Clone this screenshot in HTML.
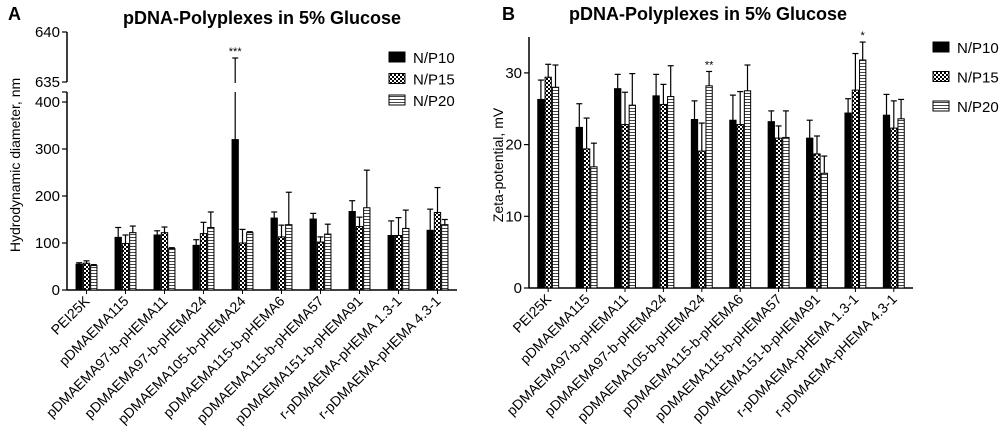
<!DOCTYPE html>
<html><head><meta charset="utf-8"><style>
body{margin:0;background:#fff;}
svg{display:block;font-family:"Liberation Sans",Arial,sans-serif;}
</style></head><body>
<svg id="chart" width="1000" height="438" viewBox="0 0 1000 438">
<defs>
<pattern id="chk" width="4" height="4" patternUnits="userSpaceOnUse"><rect width="4" height="4" fill="#fff"/><rect width="2" height="2" fill="#000"/><rect x="2" y="2" width="2" height="2" fill="#000"/></pattern>
<pattern id="hst" width="4" height="3" patternUnits="userSpaceOnUse"><rect width="4" height="3" fill="#fff"/><rect y="0" width="4" height="1" fill="#444"/></pattern>
</defs>
<text x="8" y="20" font-size="18" font-weight="bold">A</text>
<text x="262" y="24" font-size="18" font-weight="bold" text-anchor="middle">pDNA-Polyplexes in 5% Glucose</text>
<text x="502" y="20" font-size="18" font-weight="bold">B</text>
<text x="708" y="20" font-size="18" font-weight="bold" text-anchor="middle">pDNA-Polyplexes in 5% Glucose</text>
<text transform="translate(20,165) rotate(-90)" font-size="14" text-anchor="middle">Hydrodynamic diameter, nm</text>
<text transform="translate(503,165) rotate(-90)" font-size="14" text-anchor="middle">Zeta-potential, mV</text>
<g id="ga"></g><g id="gb"></g>
</svg>
<script>
const categories=["PEI25K","pDMAEMA115","pDMAEMA97-b-pHEMA11","pDMAEMA97-b-pHEMA24","pDMAEMA105-b-pHEMA24","pDMAEMA115-b-pHEMA6","pDMAEMA115-b-pHEMA57","pDMAEMA151-b-pHEMA91","r-pDMAEMA-pHEMA 1.3-1","r-pDMAEMA-pHEMA 4.3-1"];
const seriesNames=["N/P10","N/P15","N/P20"];
const sizeNP10=[55,112,117,95,320,153,151,167,116,127];
const sizeNP15=[57,99,122,120,100,113,102,135,116,165];
const sizeNP20=[52,122,88,133,122,139,119,175,131,139];
const sizeErrNP10=[58,133,126,107,637.4,166,163,190,147,172];
const sizeErrNP15=[62,117,134,144,129,138,113,155,154,218];
const sizeErrNP20=[54,136,90,166,124,208,140,255,170,150];
const zetaNP10=[26.3,22.4,27.8,26.8,23.5,23.4,23.2,20.9,24.4,24.1];
const zetaNP15=[29.4,19.4,22.8,25.6,19.1,22.8,20.9,18.7,27.6,22.3];
const zetaNP20=[28.0,16.9,25.5,26.7,28.2,27.5,21.0,16.0,31.8,23.6];
const zetaErrNP10=[29,25.7,29.8,29.8,26.1,26.9,24.7,23.4,26.4,27];
const zetaErrNP15=[31.2,23.7,27.3,28.4,23,27.4,22.6,21.2,32.7,26.1];
const zetaErrNP20=[31.1,20.2,29.9,31,30.2,31.1,24.7,18.4,34.3,26.3];
const sizeTicks=[0,100,200,300,400];
const sizeUpperTicks=[635,640];
const zetaTicks=[0,10,20,30];
const fills=["#000","url(#chk)","url(#hst)"];
const NS="http://www.w3.org/2000/svg";
function mk(p,tag,at){const e=document.createElementNS(NS,tag);for(const k in at)e.setAttribute(k,at[k]);p.appendChild(e);return e;}

function drawPanel(g,cfg){
  const {x0,x1,y0,yScale,ticks,vals,errs,leg,stars,prefix}=cfg;
  const n=categories.length, step=(x1-x0)/n, bw=7.3;
  let e=mk(g,'line',{x1:x0,y1:y0,x2:x1,y2:y0,stroke:'#000','stroke-width':1.5});
  
  ticks.forEach(t=>{const y=yScale(t);
    mk(g,'line',{x1:x0-5,y1:y,x2:x0,y2:y,stroke:'#000','stroke-width':1.2});
    let tx=mk(g,'text',{x:x0-7,y:y+5,'font-size':15,'text-anchor':'end'});tx.textContent=t;
    });
  categories.forEach((c,i)=>{
    const cx=x0+step*(i+0.5);
    mk(g,'line',{x1:cx,y1:y0,x2:cx,y2:y0+4,stroke:'#000','stroke-width':1});
    let tx=mk(g,'text',{transform:`translate(${cx+4},${y0+12}) rotate(-45)`,'font-size':14,'text-anchor':'end'});
    tx.textContent=c;
    
    for(let s=0;s<3;s++){
      const bx=cx-bw*1.5+s*bw+0.5;
      const v=vals[s][i], ev=errs[s][i];
      const yt=yScale(v), ye=yScale(ev);
      const bc=bx+(bw-1)/2;
      let el=mk(g,'line',{x1:bc,y1:yt,x2:bc,y2:ye,stroke:'#000','stroke-width':1.2});
      
      mk(g,'line',{x1:bc-3,y1:ye,x2:bc+3,y2:ye,stroke:'#000','stroke-width':1.2});
      let r=mk(g,'rect',{x:bx,y:yt,width:bw-1,height:y0-yt,fill:fills[s],stroke:'#000','stroke-width':1});
      
    }
  });
  stars.forEach(st=>{const cx=x0+step*(st.i+0.5)+(st.s-1)*bw;
    let tx=mk(g,'text',{x:cx,y:yScale(errs[st.s][st.i])-3,'font-size':11,'text-anchor':'middle'});tx.textContent=st.t;
    });
  seriesNames.forEach((nm,s)=>{
    let r=mk(g,'rect',{x:leg.x,y:leg.y+s*leg.dy,width:16,height:10,fill:fills[s],stroke:'#000','stroke-width':1});
    
    let tx=mk(g,'text',{x:leg.x+24,y:leg.y+s*leg.dy+11,'font-size':15});tx.textContent=nm;
    
  });
}
const ga=document.getElementById('ga');
const aY0=290, aPx=0.47, upTop=32, upBot=82;
function sizeY(v){ if(v<=420) return aY0-v*aPx; return upBot-(v-635)/5*(upBot-upTop); }
mk(ga,'line',{x1:67,y1:aY0,x2:67,y2:92,stroke:'#000','stroke-width':1.5});
mk(ga,'line',{x1:67,y1:upBot,x2:67,y2:upTop,stroke:'#000','stroke-width':1.5});
mk(ga,'line',{x1:62,y1:92,x2:67,y2:92,stroke:'#000','stroke-width':1.2});
sizeUpperTicks.forEach(t=>{const y=sizeY(t);mk(ga,'line',{x1:62,y1:y,x2:67,y2:y,stroke:'#000','stroke-width':1.2});
  let tx=mk(ga,'text',{x:60,y:y+5,'font-size':15,'text-anchor':'end'});tx.textContent=t;
  });
drawPanel(ga,{x0:67,x1:457,y0:aY0,yScale:sizeY,ticks:sizeTicks,
  vals:[sizeNP10,sizeNP15,sizeNP20],errs:[sizeErrNP10,sizeErrNP15,sizeErrNP20],
  leg:{x:389,y:52,dy:21.5},stars:[{i:4,s:0,t:'***'}],prefix:'a'});
mk(ga,'rect',{x:230,y:83,width:18,height:9,fill:'#fff'});
const gb=document.getElementById('gb');
const bY0=288;
function zetaY(v){return bY0-v*7.17;}
mk(gb,'line',{x1:529,y1:bY0,x2:529,y2:37,stroke:'#000','stroke-width':1.5});
drawPanel(gb,{x0:529,x1:913,y0:bY0,yScale:zetaY,ticks:zetaTicks,
  vals:[zetaNP10,zetaNP15,zetaNP20],errs:[zetaErrNP10,zetaErrNP15,zetaErrNP20],
  leg:{x:933,y:42,dy:29.5},stars:[{i:4,s:2,t:'**'},{i:8,s:2,t:'*'}],prefix:'b'});
</script>
</body></html>
